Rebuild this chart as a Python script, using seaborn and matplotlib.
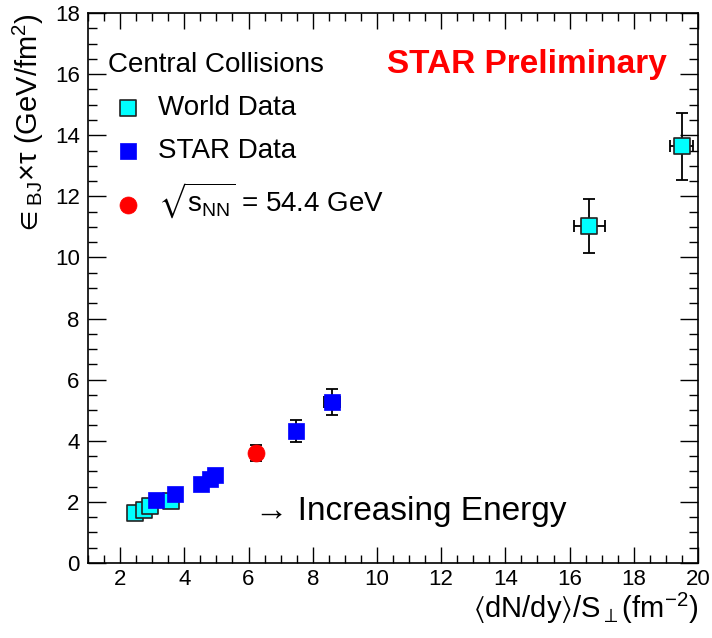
import matplotlib
matplotlib.use("Agg")
import matplotlib.pyplot as plt
import seaborn as sns
import pandas as pd
from matplotlib.ticker import MultipleLocator

# -----------------------------------------------------
# Data
# -----------------------------------------------------

world_x = [2.47, 2.73, 2.94, 3.59, 16.62, 19.49]
world_y = [1.63, 1.72, 1.85, 2.04, 11.03, 13.64]
world_xerr = [0.05, 0.05, 0.05, 0.05, 0.48, 0.37]
world_yerr = [0.10, 0.10, 0.10, 0.10, 0.88, 1.10]

star_x = [3.11, 3.72, 4.51, 4.79, 4.96, 7.49, 8.60]
star_y = [2.06, 2.26, 2.59, 2.75, 2.88, 4.32, 5.26]
star_xerr = [0.05, 0.05, 0.05, 0.05, 0.05, 0.15, 0.26]
star_yerr = [0.12, 0.13, 0.15, 0.15, 0.16, 0.35, 0.42]

bes_x = [6.24]
bes_y = [3.60]
bes_xerr = [0.05]
bes_yerr = [0.27]

labels = ["World Data", "STAR Data", r"$\sqrt{s_{\rm NN}}$ = 54.4 GeV"]

# -----------------------------------------------------
# Style
# -----------------------------------------------------

sns.set_theme(style="ticks")
plt.rcParams["font.family"] = ["Liberation Sans", "DejaVu Sans"]
plt.rcParams["mathtext.fontset"] = "custom"
plt.rcParams["mathtext.rm"] = "Liberation Sans"
plt.rcParams["mathtext.it"] = "Liberation Sans"
plt.rcParams["mathtext.bf"] = "Liberation Sans:bold"
plt.rcParams["mathtext.fallback"] = "stixsans"
plt.rcParams["text.color"] = "black"
plt.rcParams["axes.labelcolor"] = "black"

fig = plt.figure(figsize=(7.12, 6.38), dpi=100)
ax = fig.add_axes([0.1236, 0.1176, 0.8567, 0.8620])

world = pd.DataFrame({"x": world_x, "y": world_y})
star = pd.DataFrame({"x": star_x, "y": star_y})
bes = pd.DataFrame({"x": bes_x, "y": bes_y})

# -----------------------------------------------------
# Error bars
# -----------------------------------------------------

for d, xe, ye in [(world, world_xerr, world_yerr),
                  (star, star_xerr, star_yerr),
                  (bes, bes_xerr, bes_yerr)]:
    ax.errorbar(d["x"], d["y"], xerr=xe, yerr=ye, fmt="none",
                ecolor="black", elinewidth=1.3, capsize=4, capthick=1.3,
                zorder=1)

# -----------------------------------------------------
# Markers
# -----------------------------------------------------

sns.scatterplot(data=world, x="x", y="y", marker="s", s=120, color="cyan",
                edgecolor="#222222", linewidth=1.2, label=labels[0], ax=ax,
                zorder=2)
sns.scatterplot(data=star, x="x", y="y", marker="s", s=120, color="#0000ff",
                edgecolor="#0000ff", linewidth=0.5, label=labels[1], ax=ax,
                zorder=3)
sns.scatterplot(data=bes, x="x", y="y", marker="o", s=150, color="#ff0000",
                edgecolor="#ff0000", linewidth=0.5, label=labels[2], ax=ax,
                zorder=4)

# -----------------------------------------------------
# Axes
# -----------------------------------------------------

ax.set_xlim(1, 20)
ax.set_ylim(0, 18)
ax.xaxis.set_major_locator(MultipleLocator(2))
ax.xaxis.set_minor_locator(MultipleLocator(0.5))
ax.yaxis.set_major_locator(MultipleLocator(2))
ax.yaxis.set_minor_locator(MultipleLocator(0.5))

for s in ax.spines.values():
    s.set_visible(True)
    s.set_color("black")
    s.set_linewidth(1.2)

ax.tick_params(axis="both", which="both", direction="in", top=True,
               right=True, colors="black", labelsize=16, width=1.0)
ax.tick_params(axis="x", which="major", length=11.5, pad=4)
ax.tick_params(axis="x", which="minor", length=5.5)
ax.tick_params(axis="y", which="major", length=13, pad=6)
ax.tick_params(axis="y", which="minor", length=6.5)

ax.set_xlabel(r"$\langle$dN/dy$\rangle$/S$_{\perp}$(fm$^{-2}$)",
              fontsize=21, loc="right", labelpad=1)
ax.set_ylabel(r"${\in}_{\rm BJ}{\times}\mathrm{\tau}$ (GeV/fm$^{\rm 2}$)",
              fontsize=21, loc="top", labelpad=6)

# -----------------------------------------------------
# Annotations
# -----------------------------------------------------

ax.text(14.66, 16.3, "STAR Preliminary", color="#ff0000", fontsize=24,
        fontweight="bold", ha="center", va="center")
ax.text(6.21, 1.67, "→ Increasing Energy", fontsize=24,
        ha="left", va="center")

leg = ax.legend(title="Central Collisions", loc="upper left",
                bbox_to_anchor=(0.015, 0.95), frameon=False, fontsize=20,
                title_fontsize=20, handlelength=1.44, handletextpad=0.36,
                labelspacing=0.62, borderaxespad=0)
leg._legend_box.align = "left"

fig.savefig("out.png", dpi=100)
